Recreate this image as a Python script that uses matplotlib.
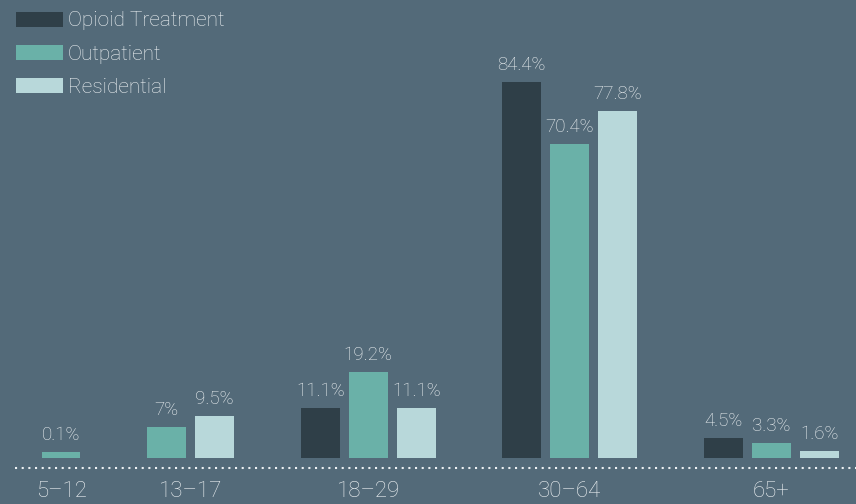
import numpy as np
import matplotlib
matplotlib.use('Agg')
import matplotlib.pyplot as plt
from matplotlib.patches import Patch

plt.rcParams['font.family'] = ['Roboto', 'DejaVu Sans']

# data
age_groups = ['5–12', '13–17', '18–29', '30–64', '65+']
series = ['Opioid Treatment', 'Outpatient', 'Residential']
opioid = [0, 0, 11.1, 84.4, 4.5]
outpatient = [0.1, 7, 19.2, 70.4, 3.3]
residential = [0, 9.5, 11.1, 77.8, 1.6]
labels = {
    'Opioid Treatment': ['', '', '11.1%', '84.4%', '4.5%'],
    'Outpatient': ['0.1%', '7%', '19.2%', '70.4%', '3.3%'],
    'Residential': ['', '9.5%', '11.1%', '77.8%', '1.6%'],
}

bg = '#536a79'
colors = ['#2f3f48', '#6ab1a8', '#b8d8da']
txt = '#eef2f4'
fw = 'light'

fig = plt.figure(figsize=(8.56, 5.04), dpi=100)
fig.patch.set_facecolor(bg)
ax = fig.add_axes([0, 0, 1, 1])
ax.set_facecolor(bg)
ax.axis('off')

values = [opioid, outpatient, residential]
bar_w = 0.81
group_step = 2.2
min_h = 1.3  # tiny values still drawn visible

x = 0.0
centers = []
for g in range(len(age_groups)):
    present = [s for s in range(3) if values[s][g] > 0]
    xs = []
    for k, s in enumerate(present):
        if k > 0:
            x += 1
        xs.append(x)
        v = values[s][g]
        ax.bar(x, max(v, min_h), width=bar_w, color=colors[s], linewidth=0)
        ax.text(x, max(v, min_h) + 1.8, labels[series[s]][g], ha='center', va='bottom',
                color=txt, fontsize=13.5, fontweight=fw)
    centers.append(np.mean(xs))
    x += group_step

# pixel mapping: x=0 at 61px, 48px per unit; y=0 at 46px from bottom, 4.46px per %
ax.set_xlim(-61 / 48, (856 - 61) / 48)
ax.set_ylim(-46 / 4.46, (504 - 46) / 4.46)

ax.plot([-46 / 48, (856 - 61) / 48], [-2.3, -2.3], color=txt, linewidth=1.5,
        linestyle=(0, (1, 2.2)), dash_capstyle='butt')

for c, lab in zip(centers, age_groups):
    ax.text(c, -7.6, lab, ha='center', va='center', color=txt, fontsize=16,
            fontweight=fw)

handles = [Patch(facecolor=colors[i], edgecolor='none') for i in range(3)]
leg = ax.legend(handles, series, loc='upper left', bbox_to_anchor=(0.005, 1.0),
                frameon=False, handlelength=2.25, handleheight=0.72,
                handletextpad=0.25, labelspacing=0.68, borderaxespad=0.2,
                borderpad=0.35, prop={'size': 15, 'weight': fw})
for t in leg.get_texts():
    t.set_color(txt)

fig.savefig('out.png', dpi=100, facecolor=bg)
